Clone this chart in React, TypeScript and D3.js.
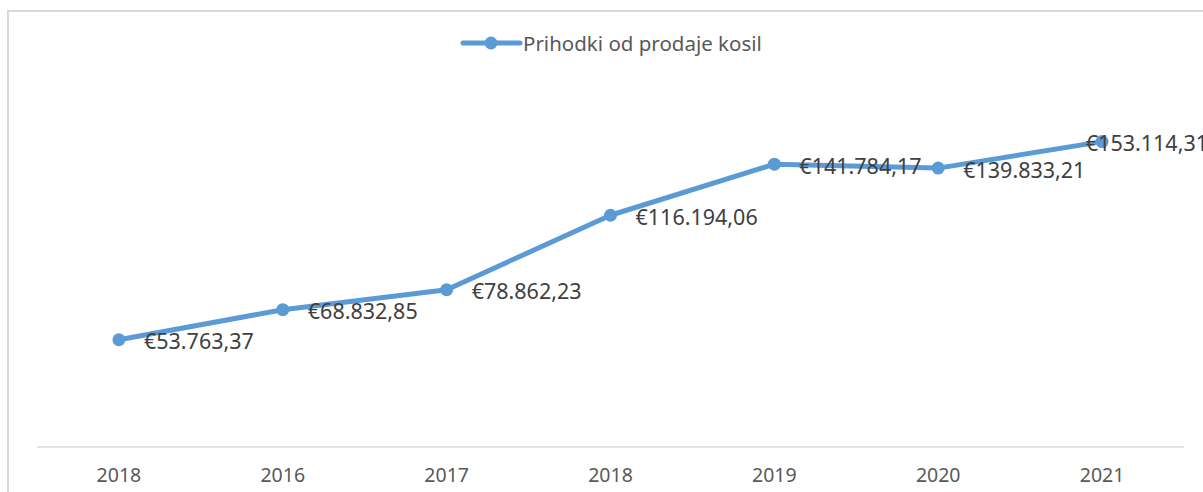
import React from "react";
import * as d3 from "d3";

const categories = ["2018", "2016", "2017", "2018", "2019", "2020", "2021"];
const values = [53763.37, 68832.85, 78862.23, 116194.06, 141784.17, 139833.21, 153114.31];
const seriesName = "Prihodki od prodaje kosil";

const W = 1203;
const H = 492;
const COLOR = "#5B9BD5";

function fmt(v: number): string {
  const [i, d] = v.toFixed(2).split(".");
  const withDots = i.replace(/\B(?=(\d{3})+(?!\d))/g, ".");
  return "€" + withDots + "," + d;
}

export default function App() {
  const idx = categories.map((_, i) => String(i));
  const x = d3.scaleBand<string>().domain(idx).range([37, 1184]);
  const y = d3.scaleLinear().domain([0, 180000]).range([447, 88]);
  const cx = (i: number) => (x(String(i)) as number) + x.bandwidth() / 2;
  const line = d3
    .line<number>()
    .x((_, i) => cx(i))
    .y((d) => y(d));

  return (
    <svg
      width={W}
      height={H}
      style={{ position: "absolute", left: 0, top: 0, background: "#fff" }}
      fontFamily="'Noto Sans', 'Open Sans', sans-serif"
    >
      <rect x={8} y={11} width={1400} height={700} fill="#fff" stroke="#d9d9d9" strokeWidth={2} />
      {/* legend */}
      <g>
        <line x1={463} x2={520} y1={43} y2={43} stroke={COLOR} strokeWidth={5} strokeLinecap="round" />
        <circle cx={491} cy={43} r={6.5} fill={COLOR} />
        <text x={523} y={44} dy="0.35em" fontSize={20.5} fill="#595959">
          {seriesName}
        </text>
      </g>
      {/* axis */}
      <line x1={37} x2={1184} y1={447} y2={447} stroke="#d9d9d9" strokeWidth={1.5} />
      {categories.map((c, i) => (
        <text key={i} x={cx(i)} y={475} dy="0.35em" textAnchor="middle" fontSize={19.5} fill="#595959">
          {c}
        </text>
      ))}
      {/* series */}
      <path d={line(values) || ""} fill="none" stroke={COLOR} strokeWidth={5} strokeLinejoin="round" strokeLinecap="round" />
      {values.map((v, i) => (
        <circle key={i} cx={cx(i)} cy={y(v)} r={6.5} fill={COLOR} />
      ))}
      {values.map((v, i) => {
        const last = i === values.length - 1;
        return (
          <text
            key={"l" + i}
            x={last ? W + 5 : cx(i) + 25}
            y={y(v) + 2}
            dy="0.35em"
            textAnchor={last ? "end" : "start"}
            fontSize={21.5}
            fill="#404040"
          >
            {fmt(v)}
          </text>
        );
      })}
    </svg>
  );
}
